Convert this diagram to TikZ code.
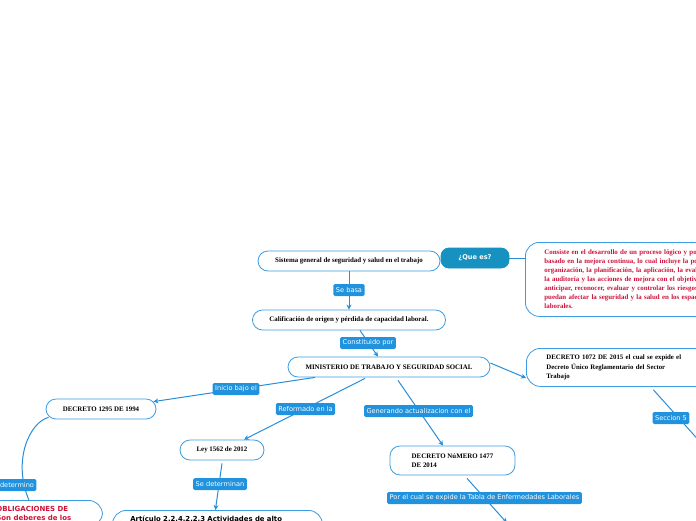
\documentclass[tikz,border=0pt]{standalone}
\usepackage{fontspec}
\setmainfont{Liberation Serif}
\newfontfamily\lblfont{DejaVu Sans}
\usetikzlibrary{arrows.meta}
\definecolor{bdr}{RGB}{60,156,226}
\definecolor{lblc}{RGB}{32,146,222}
\definecolor{qfill}{RGB}{22,145,192}
\definecolor{linec}{RGB}{40,142,216}
\definecolor{redt}{RGB}{205,18,58}
\begin{document}
\begin{tikzpicture}[x=1pt,y=-1pt,
  topic/.style={draw=bdr,line width=0.8pt,fill=white,rounded corners=10pt,minimum height=20pt,inner sep=0pt,font=\bfseries\fontsize{6.9}{9}\selectfont},
  bigbox/.style={topic,rounded corners=14pt,align=left},
  lbl/.style={fill=lblc,rounded corners=1.5pt,text=white,font=\lblfont\fontsize{6.6}{7}\selectfont,inner xsep=2.5pt,inner ysep=0pt,minimum height=12pt},
  conn/.style={draw=linec,line width=1pt},
  arr/.style={conn,-{Stealth[length=5pt,width=5pt]}}
]
\useasboundingbox (0,0) rectangle (696,520);
% topic nodes
\node[topic,minimum width=182pt] (sist) at (349,261) {Sistema general de seguridad y salud en el trabajo};
\node[topic,draw=qfill,fill=qfill,rounded corners=8pt,minimum width=68pt,text=white,font=\lblfont\bfseries\fontsize{6.6}{7}\selectfont] (quees) at (475,258) {¿Que es?};
\node[bigbox,anchor=north west,text width=260pt,inner xsep=19pt,minimum height=74pt,text=redt] (def) at (525,242)
 {Consiste en el desarrollo de un proceso lógico y por etapas,\\
  basado en la mejora continua, lo cual incluye la política, la\\
  organización, la planificación, la aplicación, la evaluación,\\
  la auditoría y las acciones de mejora con el objetivo de\\
  anticipar, reconocer, evaluar y controlar los riesgos que\\
  puedan afectar la seguridad y la salud en los espacios\\
  laborales.};
\node[topic,minimum width=193pt] (calif) at (349,320) {Calificación de origen y pérdida de capacidad laboral.};
\node[topic,minimum width=202pt] (mint) at (389,367) {MINISTERIO DE TRABAJO Y SEGURIDAD SOCIAL};
\node[bigbox,anchor=north west,text width=180pt,inner xsep=20pt,minimum height=38pt,font=\bfseries\fontsize{6.8}{9.5}\selectfont] (dec1072) at (526,348)
 {DECRETO 1072 DE 2015 el cual se expide el\\Decreto Único Reglamentario del Sector\\Trabajo};
\node[topic,minimum width=110pt] (dec1295) at (101,409) {DECRETO 1295 DE 1994};
\node[topic,minimum width=84pt] (ley) at (222,450) {Ley 1562 de 2012};
\node[topic,align=left,minimum width=125pt,minimum height=29pt] (dec1477) at (452.5,460.5) {DECRETO NúMERO 1477\\DE 2014};
\node[bigbox,anchor=north west,text width=174pt,inner xsep=18pt,inner ysep=4pt,text height=7pt,text depth=27pt,font=\lblfont\bfseries\fontsize{6.9}{9}\selectfont] (art) at (112,510)
 {Artículo 2.2.4.2.2.3 Actividades de alto};
\node[bigbox,anchor=north west,text width=77pt,inner xsep=29pt,inner ysep=6pt,text=redt,font=\lblfont\bfseries\fontsize{7}{9}\selectfont] (oblig) at (-33,500)
 {OBLIGACIONES~DE\\Son~deberes~de~los};
% free ends
\coordinate (e1072) at (702,444);
\coordinate (e1477) at (507,523);
% connectors
\draw[conn] (quees.east) -- ([yshift=-16pt]def.north west);
\draw[arr] (sist.south) -- (calif.north);
\draw[arr] ([xshift=11pt]calif.south) -- ([xshift=-11pt]mint.north);
\draw[arr] ([yshift=4pt]mint.east) -- ([yshift=-30pt]dec1072.north west);
\draw[conn] ([xshift=17pt,yshift=-3pt]dec1072.south) -- (e1072);
\draw[arr] ([xshift=-74pt]mint.south) -- ([xshift=-3pt,yshift=-3pt]dec1295.north east);
\draw[arr] ([xshift=-24pt,yshift=-1pt]mint.south) -- ([xshift=22pt]ley.north);
\draw[arr] ([yshift=-3pt]ley.south) -- ([xshift=-2pt]art.north);
\draw[arr] ([xshift=9pt,yshift=-3pt]mint.south) -- ([xshift=-9.5pt]dec1477.north);
\draw[arr] ([xshift=14.5pt,yshift=-3pt]dec1477.south) -- (e1477);
\draw[conn] ([xshift=3pt,yshift=2pt]dec1295.south west) .. controls (30,422) and (12,460) .. ([xshift=-6pt]oblig.north);
% labels
\node[lbl] (l1) at (349,290) {Se basa};
\node[lbl] (l2) at (368,343) {Constituido por};
\node[lbl] (l3) at (671,418) {Seccion 5};
\node[lbl] (l4) at (236,389) {Inicio bajo el};
\node[lbl] (l5) at (305.5,409) {Reformado en la};
\node[lbl] (l6) at (220,484) {Se determinan};
\node[lbl] (l7) at (418.5,411) {Generando actualizacion con el};
\node[lbl] (l8) at (484.5,498) {Por el cual se expide la Tabla de Enfermedades Laborales};
\node[lbl] (l9) at (17,485) {determino};
\end{tikzpicture}
\end{document}
